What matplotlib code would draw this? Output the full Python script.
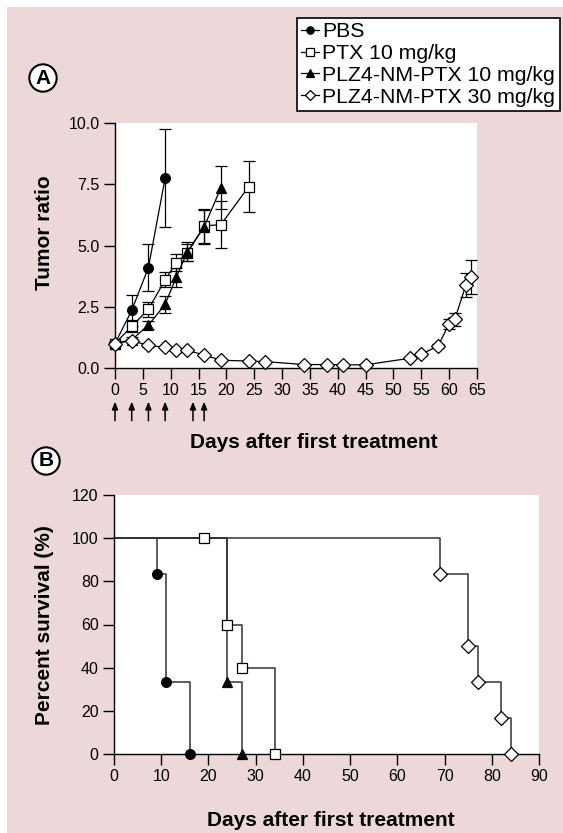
"""
Tumor growth (A) and Kaplan-Meier survival (B) after PTX / PLZ4-NM-PTX treatment.
Run directly:  python plot.py  -> writes out.png
"""
import matplotlib
matplotlib.use("Agg")
import matplotlib.pyplot as plt
from matplotlib.patches import Rectangle

plt.rcParams["font.family"] = ["Liberation Sans", "DejaVu Sans"]

# ---- data: panel A (tumor ratio, mean +/- error) -----------------------------
pbs_days = [0, 3, 6, 9]
pbs_ratio = [1.0, 2.35, 4.1, 7.75]
pbs_err = [0.05, 0.65, 0.95, 2.0]

ptx_days = [0, 3, 6, 9, 11, 13, 16, 19, 24]
ptx_ratio = [1.0, 1.7, 2.4, 3.6, 4.3, 4.7, 5.8, 5.85, 7.4]
ptx_err = [0.05, 0.25, 0.3, 0.3, 0.35, 0.35, 0.7, 0.95, 1.05]

plz10_days = [0, 3, 6, 9, 11, 13, 16, 19]
plz10_ratio = [1.0, 1.15, 1.75, 2.6, 3.7, 4.75, 5.75, 7.35]
plz10_err = [0.05, 0.1, 0.15, 0.35, 0.4, 0.4, 0.7, 0.88]

plz30_days = [0, 3, 6, 9, 11, 13, 16, 19, 24, 27, 34, 38, 41, 45,
              53, 55, 58, 60, 61, 63, 64]
plz30_ratio = [1.0, 1.12, 0.92, 0.85, 0.75, 0.72, 0.53, 0.32, 0.28, 0.26, 0.14,
               0.14, 0.13, 0.13, 0.4, 0.56, 0.9, 1.8, 1.98, 3.38, 3.72]
plz30_err = [0.03, 0.05, 0.05, 0.05, 0.05, 0.05, 0.05, 0.03, 0.03, 0.03, 0.02,
             0.02, 0.02, 0.02, 0.05, 0.05, 0.1, 0.2, 0.25, 0.5, 0.68]

dose_days = [0, 3, 6, 9, 14, 16]   # treatment arrows under the x axis

# ---- data: panel B (percent survival) -----------------------------------------
pbs_t = [0, 9, 11, 16]
pbs_surv = [100, 83.3, 33.3, 0]
ptx_t = [0, 19, 24, 27, 34]
ptx_surv = [100, 100, 60, 40, 0]
plz10_t = [0, 24, 27]
plz10_surv = [100, 33.3, 0]
plz30_t = [0, 69, 75, 77, 82, 84]
plz30_surv = [100, 83.3, 50, 33.3, 16.7, 0]

labels = ["PBS", "PTX 10 mg/kg", "PLZ4-NM-PTX 10 mg/kg", "PLZ4-NM-PTX 30 mg/kg"]

W, H = 563, 833
PINK = "#ecd8d8"
TICK_FS = 11.5
LABEL_FS = 15

styles = [
    dict(marker="o", mfc="black", ms=7),
    dict(marker="s", mfc="white", ms=7.5),
    dict(marker="^", mfc="black", ms=7),
    dict(marker="D", mfc="white", ms=7),
]


def px_axes(fig, left, top, right, bottom):
    return fig.add_axes([left / W, 1 - bottom / H, (right - left) / W, (bottom - top) / H])


def style_axes(ax):
    for s in ("top", "right"):
        ax.spines[s].set_visible(False)
    for s in ("left", "bottom"):
        ax.spines[s].set_linewidth(1.0)
    ax.tick_params(direction="out", length=8, width=1.0, labelsize=TICK_FS, pad=3)
    ax.set_facecolor("white")


fig = plt.figure(figsize=(W / 100, H / 100), dpi=100)
fig.patch.set_facecolor("white")
fig.add_artist(Rectangle((7 / W, 0), 1 - 7 / W, 1 - 7 / H, transform=fig.transFigure,
                         facecolor=PINK, edgecolor="none", zorder=-10))

# ---- panel A -----------------------------------------------------------------
ax_a = px_axes(fig, 115, 123, 477, 368)
style_axes(ax_a)
handles = []
for (d, r, e), st in zip([(pbs_days, pbs_ratio, pbs_err), (ptx_days, ptx_ratio, ptx_err),
                          (plz10_days, plz10_ratio, plz10_err),
                          (plz30_days, plz30_ratio, plz30_err)], styles):
    ax_a.errorbar(d, r, yerr=e, fmt="none", ecolor="black", elinewidth=0.9,
                  capsize=4, capthick=0.9, clip_on=False, zorder=2)
    h, = ax_a.plot(d, r, color="black", lw=0.9, mec="black", mew=0.9,
                   clip_on=False, zorder=3, **st)
    handles.append(h)
ax_a.set_xlim(0, 65)
ax_a.set_ylim(0, 10)
ax_a.set_xticks(range(0, 66, 5))
ax_a.set_yticks([0, 2.5, 5, 7.5, 10])
ax_a.set_yticklabels(["0.0", "2.5", "5.0", "7.5", "10.0"])

for d in dose_days:
    ax_a.annotate("", xy=(d, -0.137), xytext=(d, -0.215),
                  xycoords=ax_a.get_xaxis_transform(),
                  textcoords=ax_a.get_xaxis_transform(),
                  arrowprops=dict(arrowstyle="-|>,head_length=0.45,head_width=0.18",
                                  color="black", lw=1.1, shrinkA=0, shrinkB=0))

fig.text(314 / W, 1 - 443 / H, "Days after first treatment", ha="center", va="center",
         fontsize=LABEL_FS, fontweight="bold")
fig.text(44 / W, 1 - 233 / H, "Tumor ratio", ha="center", va="center", rotation=90,
         fontsize=LABEL_FS, fontweight="bold")

fig.legend(handles, labels, loc="upper left", bbox_to_anchor=(297 / W, 1 - 18 / H),
           fontsize=15.3, frameon=True, fancybox=False, edgecolor="black",
           framealpha=1, handlelength=0.85, handletextpad=0.15, labelspacing=0.13,
           borderpad=0.2, borderaxespad=0, markerscale=0.75).get_frame().set_linewidth(1.2)

# ---- panel B -----------------------------------------------------------------
ax_b = px_axes(fig, 114, 495, 539, 754)
style_axes(ax_b)
for (t, s), st in zip([(pbs_t, pbs_surv), (ptx_t, ptx_surv),
                       (plz10_t, plz10_surv), (plz30_t, plz30_surv)], styles):
    ax_b.step(t, s, where="post", color="#333333", lw=1.1, clip_on=False, zorder=2)
    ax_b.plot(t[1:], s[1:], ls="none", mec="black", mew=0.9, clip_on=False,
              zorder=3, **st)
ax_b.set_xlim(0, 90)
ax_b.set_ylim(0, 120)
ax_b.set_xticks(range(0, 91, 10))
ax_b.set_yticks(range(0, 121, 20))

fig.text(331 / W, 1 - 820 / H, "Days after first treatment", ha="center", va="center",
         fontsize=LABEL_FS, fontweight="bold")
fig.text(45 / W, 1 - 625 / H, "Percent survival (%)", ha="center", va="center",
         rotation=90, fontsize=LABEL_FS, fontweight="bold")

# circled panel letters
for x, y, letter in [(43, 78, "A"), (46, 461, "B")]:
    fig.text(x / W, 1 - y / H, letter, ha="center", va="center", fontsize=15,
             fontweight="bold",
             bbox=dict(boxstyle="circle,pad=0.2", fc="white", ec="black", lw=1.5))

fig.savefig("out.png", dpi=100, facecolor=fig.get_facecolor())
